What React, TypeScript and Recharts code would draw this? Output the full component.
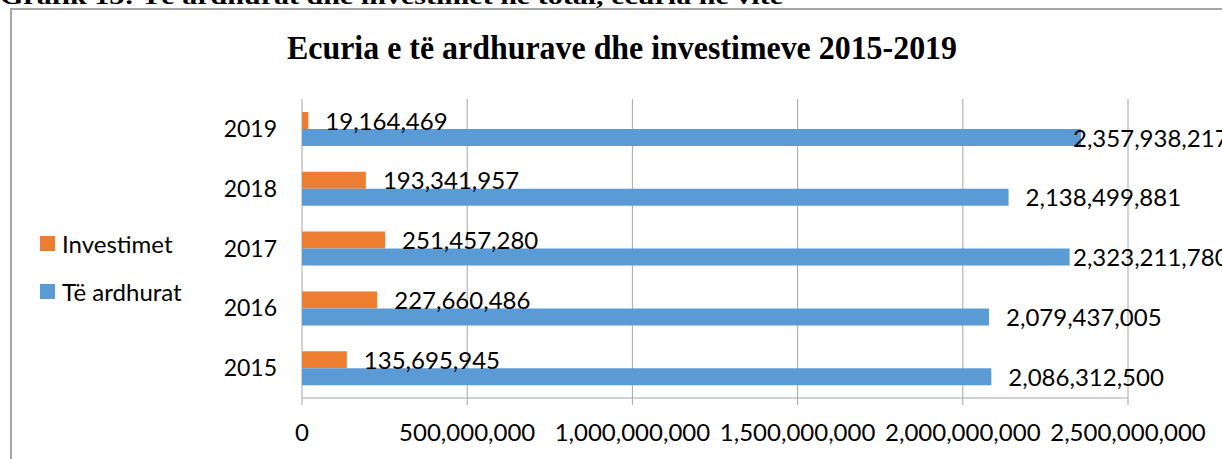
import { Bar, BarChart, CartesianGrid, LabelList, Legend, XAxis, YAxis } from "recharts";

const YEARS = ["2015", "2016", "2017", "2018", "2019"];
const INVESTIMET = [135695945, 227660486, 251457280, 193341957, 19164469];
const ARDHURAT = [2086312500, 2079437005, 2323211780, 2138499881, 2357938217];
const X_TICKS = [0, 500000000, 1000000000, 1500000000, 2000000000, 2500000000];
const BAND_TICKS = [0, 1, 2, 3, 4, 5];

const SERIES = [
  { key: "investimet", name: "Investimet", color: "#ED7D31" },
  { key: "ardhurat", name: "Të ardhurat", color: "#5B9BD5" },
];

const data = YEARS.map((year, i) => ({
  year,
  investimet: INVESTIMET[i],
  ardhurat: ARDHURAT[i],
}));

const GRID = "#a6a6a6";
const FONT = "Lato, 'Open Sans', sans-serif";
const SERIF = "'Liberation Serif', 'Times New Roman', serif";
// Excel pulls labels back inside the chart area when they would overflow
const LABEL_MAX_X = 1073;

const fmt = (v: number) => Number(v).toLocaleString("en-US");

function renderLabel(props: any) {
  const { x, y, width, height, value } = props;
  const tx = Math.min(Number(x) + Number(width) + 17, LABEL_MAX_X);
  return (
    <text
      x={tx}
      y={Number(y) + Number(height) / 2}
      dy="0.38em"
      fill="#000"
      fontSize={24}
      fontFamily={FONT}
    >
      {fmt(value)}
    </text>
  );
}

function LegendContent() {
  return (
    <div style={{ fontFamily: FONT, fontSize: 24, color: "#000" }}>
      {SERIES.map((s) => (
        <div
          key={s.key}
          style={{ display: "flex", alignItems: "center", height: 48, whiteSpace: "nowrap" }}
        >
          <span
            style={{ width: 15, height: 15, background: s.color, marginRight: 7, display: "inline-block" }}
          />
          <span>{s.name}</span>
        </div>
      ))}
    </div>
  );
}

export default function App() {
  return (
    <div
      style={{
        position: "absolute",
        left: 0,
        top: 0,
        width: 1222,
        height: 459,
        overflow: "hidden",
        background: "#fff",
      }}
    >
      <svg width={1222} height={459} style={{ position: "absolute", left: 0, top: 0 }}>
        <text
          x={0}
          y={4}
          fontFamily={SERIF}
          fontWeight="bold"
          fontSize={24}
          textLength={783}
          lengthAdjust="spacingAndGlyphs"
        >
          Grafik 15: Të ardhurat dhe investimet në total, ecuria në vite
        </text>
        <rect x={11} y={9} width={1400} height={600} fill="none" stroke={GRID} strokeWidth={2} />
        <text
          x={287}
          y={59}
          fontFamily={SERIF}
          fontWeight="bold"
          fontSize={33}
          textLength={670}
          lengthAdjust="spacingAndGlyphs"
        >
          Ecuria e të ardhurave dhe investimeve 2015-2019
        </text>
      </svg>
      <div style={{ position: "absolute", left: 0, top: 0 }}>
        <BarChart
          width={1222}
          height={459}
          data={data}
          layout="vertical"
          margin={{ top: 99, right: 94, bottom: 0, left: 0 }}
          barSize={17}
          barGap={0}
        >
          <CartesianGrid horizontal={false} stroke={GRID} yAxisId="bands" />
          <XAxis
            type="number"
            domain={[0, 2500000000]}
            ticks={X_TICKS}
            interval={0}
            height={61}
            tickSize={7}
            tickMargin={19}
            stroke={GRID}
            tickFormatter={fmt}
            tick={{ fill: "#000", fontSize: 24, fontFamily: FONT }}
          />
          <YAxis
            yAxisId="bands"
            type="number"
            domain={[0, 5]}
            ticks={BAND_TICKS}
            width={0}
            tickSize={8}
            tick={false}
            stroke={GRID}
          />
          <YAxis
            yAxisId="cat"
            type="category"
            dataKey="year"
            reversed
            width={302}
            axisLine={false}
            tickLine={false}
            tickSize={0}
            tickMargin={25}
            tick={{ fill: "#000", fontSize: 23, fontFamily: FONT }}
          />
          <Legend
            layout="horizontal"
            align="center"
            verticalAlign="middle"
            content={LegendContent}
            wrapperStyle={{ left: 40, top: 219, width: 200 }}
          />
          {SERIES.map((s) => (
            <Bar
              key={s.key}
              yAxisId="cat"
              dataKey={s.key}
              name={s.name}
              fill={s.color}
              isAnimationActive={false}
            >
              <LabelList dataKey={s.key} content={renderLabel} />
            </Bar>
          ))}
        </BarChart>
      </div>
    </div>
  );
}
